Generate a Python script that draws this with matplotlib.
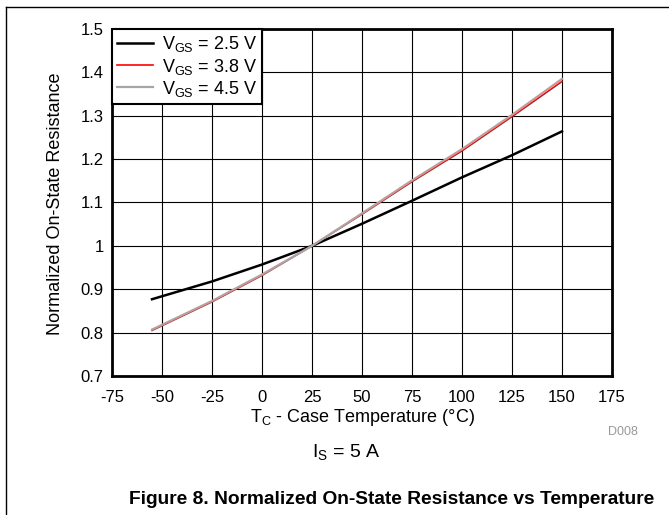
import numpy as np
import matplotlib.pyplot as plt
from matplotlib.lines import Line2D

plt.rcParams['font.family'] = ['Liberation Sans', 'DejaVu Sans']
plt.rcParams['mathtext.fontset'] = 'custom'
plt.rcParams['mathtext.rm'] = 'Liberation Sans'
plt.rcParams['mathtext.it'] = 'Liberation Sans:italic'

# data --------------------------------------------------------------------
temp = [-55, -25, 0, 25, 50, 75, 100, 125, 150]
r_25 = [0.877, 0.918, 0.957, 1.0, 1.051, 1.104, 1.158, 1.209, 1.264]
r_38 = [0.805, 0.871, 0.932, 1.0, 1.073, 1.148, 1.219, 1.298, 1.379]
r_45 = [0.807, 0.873, 0.934, 1.0, 1.075, 1.151, 1.223, 1.302, 1.385]
labels = [r'V$_{\mathrm{GS}}$ = 2.5 V', r'V$_{\mathrm{GS}}$ = 3.8 V',
          r'V$_{\mathrm{GS}}$ = 4.5 V']
xticks = np.arange(-75, 176, 25)
yticks = [0.7, 0.8, 0.9, 1, 1.1, 1.2, 1.3, 1.4, 1.5]
ytick_labels = ['0.7', '0.8', '0.9', '1', '1.1', '1.2', '1.3', '1.4', '1.5']

W, H = 669, 515
fig = plt.figure(figsize=(W / 100, H / 100), dpi=100)
ax = fig.add_axes([112 / W, 1 - 376 / H, 500 / W, 347 / H])

ax.plot(temp, r_25, color='black', lw=1.8, label=labels[0])
ax.plot(temp, r_38, color='#ff0000', lw=1.2, label=labels[1])
ax.plot(temp, r_45, color='#a6a6a6', lw=1.6, label=labels[2])

ax.set_xlim(-75, 175)
ax.set_ylim(0.7, 1.5)
ax.set_xticks(xticks)
ax.set_xticklabels([str(t) for t in xticks])
ax.set_yticks(yticks)
ax.set_yticklabels(ytick_labels)
ax.tick_params(length=0, labelsize=12)
ax.tick_params(axis='x', pad=10)
ax.tick_params(axis='y', pad=6)
ax.grid(True, color='black', lw=0.8)
ax.set_axisbelow(True)
for s in ax.spines.values():
    s.set_linewidth(2)

leg = ax.legend(loc='upper left', borderaxespad=0, fontsize=13, fancybox=False,
                framealpha=1, edgecolor='black', handlelength=1.95,
                borderpad=0.3, labelspacing=0.12, handletextpad=0.5)
leg.get_frame().set_linewidth(1.5)

# axis titles and captions
fig.text(362 / W, 1 - 418 / H, r'T$_{\mathrm{C}}$ - Case Temperature (°C)',
         fontsize=13, ha='center', va='center')
fig.text(55 / W, 1 - 204 / H, 'Normalized On-State Resistance', fontsize=13,
         rotation=90, ha='center', va='center')
fig.text(623 / W, 1 - 432 / H, 'D008', color='#999999', fontsize=9,
         ha='center', va='center')
fig.text(346 / W, 1 - 452 / H, r'I$_{\mathrm{S}}$ = 5 A', fontsize=14,
         ha='center', va='center')
fig.text(392 / W, 1 - 499 / H,
         'Figure 8. Normalized On-State Resistance vs Temperature',
         fontsize=13.8, fontweight='bold', ha='center', va='center')

# page frame lines (top and left)
fig.add_artist(Line2D([6 / W, 1], [1 - 7 / H, 1 - 7 / H], color='black', lw=1))
fig.add_artist(Line2D([6 / W, 6 / W], [0, 1 - 7 / H], color='black', lw=1))

fig.savefig('out.png', dpi=100)
